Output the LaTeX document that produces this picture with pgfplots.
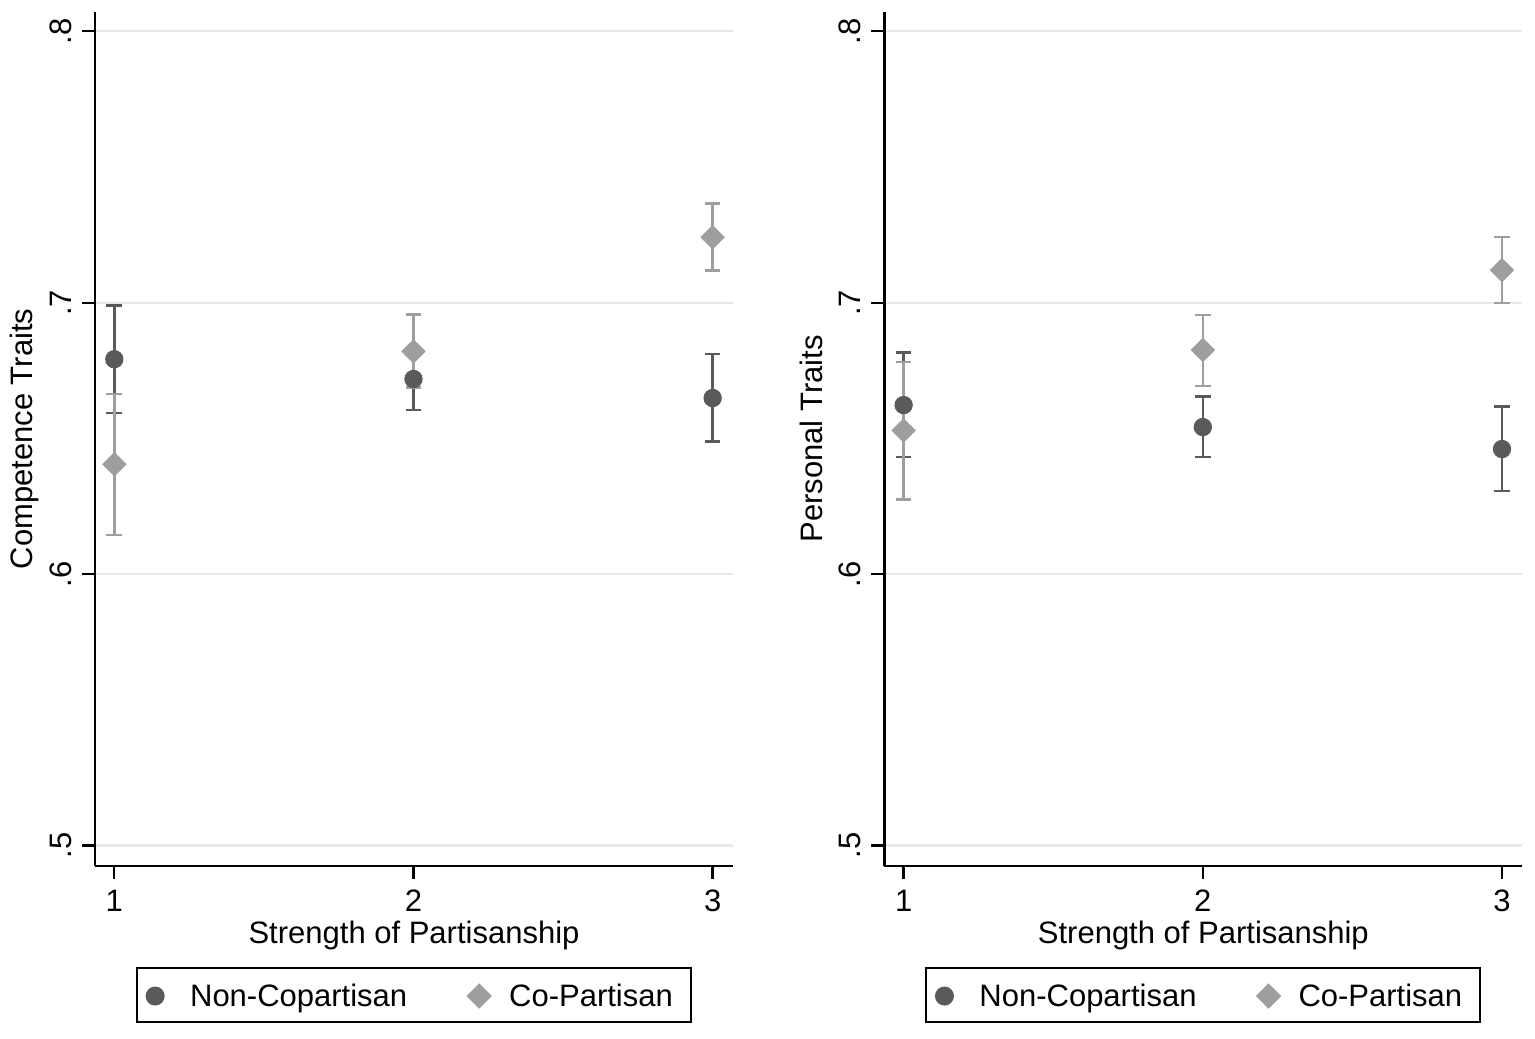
\documentclass[border=0pt]{standalone}
\usepackage{fontspec}
\setmainfont{Liberation Sans}
\usepackage{pgfplots}
\pgfplotsset{compat=1.18}
\definecolor{dk}{RGB}{90,90,90}
\definecolor{lt}{RGB}{158,158,158}
\definecolor{gr}{RGB}{232,232,232}
\pgfplotsset{
 panel/.style={
  scale only axis, width=191.4pt, height=256pt,
  xmin=0.9355, xmax=3.068, ymin=0.4926, ymax=0.807,
  axis x line*=bottom, axis y line*=left,
  axis line style={line width=0.7pt},
  xtick={1,2,3}, xticklabels={1,2,3},
  ytick={0.5,0.6,0.7,0.8}, yticklabels={.5,.6,.7,.8},
  tick align=outside, major tick length=3.9pt,
  tick style={line width=0.7pt, black},
  ymajorgrids, grid style={line width=0.7pt, gr},
  font=\fontsize{9.3}{11}\selectfont,
  /pgf/number format/assume math mode=true,
  yticklabel style={rotate=90, anchor=base, inner sep=0pt},
  yticklabel shift=3.3pt,
  xticklabel style={anchor=north, inner sep=0pt},
  xticklabel shift=3.3pt,
  xlabel={Strength of Partisanship},
  xlabel style={at={(axis description cs:0.5,-0.0645)}, anchor=north, inner sep=0pt},
  ylabel style={at={(axis description cs:-0.0972,0.5)}, anchor=base, inner sep=0pt},
  legend columns=2,
  legend style={at={(0.5,-0.1184)}, anchor=north, draw=black, line width=0.6pt,
    inner xsep=2.85pt, inner ysep=0pt,
    nodes={inner xsep=2.55pt, inner ysep=0pt, text height=11.7pt, text depth=4.5pt},
    /tikz/column 1/.style={column sep=5.4pt},
    /tikz/column 2/.style={column sep=15.65pt},
    /tikz/column 3/.style={column sep=3.05pt}},
 },
 ebar/.style={only marks, mark=none, forget plot,
   error bars/.cd, y dir=both, y explicit,
   error bar style={line width=0.75pt, #1},
   error mark options={#1, rotate=90, line width=0.75pt, mark size=2.35pt}},
 nonmark/.style={only marks, mark=*, mark size=2.55pt, dk, mark options={fill=dk, draw=dk},
   legend image code/.code={\draw[##1,yshift=-0.4pt] plot coordinates {(0pt,0pt)};}},
 comark/.style={only marks, mark=square*, mark size=2.4pt, lt, mark options={fill=lt, draw=lt, rotate=45},
   legend image code/.code={\draw[##1,yshift=-0.4pt] plot coordinates {(0pt,0pt)};}},
}
\begin{document}
\begin{tikzpicture}
\useasboundingbox (0,0) rectangle (460.5pt,311.4pt);
\begin{axis}[panel, at={(28.5pt,51.7pt)}, anchor=south west, ylabel={Competence Traits}]
\addplot[dk, ebar=dk] coordinates {
 (1,0.6792) += (0,0.0197) -= (0,0.0199)
 (2,0.6719) += (0,0.0114) -= (0,0.0114)
 (3,0.6649) += (0,0.0162) -= (0,0.0160)};
\addplot[lt, ebar=lt] coordinates {
 (1,0.6405) += (0,0.0259) -= (0,0.0260)
 (2,0.6821) += (0,0.0135) -= (0,0.0133)
 (3,0.7241) += (0,0.0124) -= (0,0.0122)};
\addplot[nonmark] coordinates {(1,0.6792) (2,0.6719) (3,0.6649)};
\addlegendentry{Non-Copartisan}
\addplot[comark] coordinates {(1,0.6405) (2,0.6821) (3,0.7241)};
\addlegendentry{Co-Partisan}
\end{axis}
\begin{axis}[panel, at={(265.3pt,51.7pt)}, anchor=south west, ylabel={Personal Traits}]
\addplot[dk, ebar=dk] coordinates {
 (1,0.6623) += (0,0.0194) -= (0,0.0192)
 (2,0.6542) += (0,0.0112) -= (0,0.0111)
 (3,0.6461) += (0,0.0156) -= (0,0.0155)};
\addplot[lt, ebar=lt] coordinates {
 (1,0.6529) += (0,0.0252) -= (0,0.0253)
 (2,0.6826) += (0,0.0129) -= (0,0.0132)
 (3,0.7120) += (0,0.0122) -= (0,0.0120)};
\addplot[nonmark] coordinates {(1,0.6623) (2,0.6542) (3,0.6461)};
\addlegendentry{Non-Copartisan}
\addplot[comark] coordinates {(1,0.6529) (2,0.6826) (3,0.7120)};
\addlegendentry{Co-Partisan}
\end{axis}
\end{tikzpicture}
\end{document}
